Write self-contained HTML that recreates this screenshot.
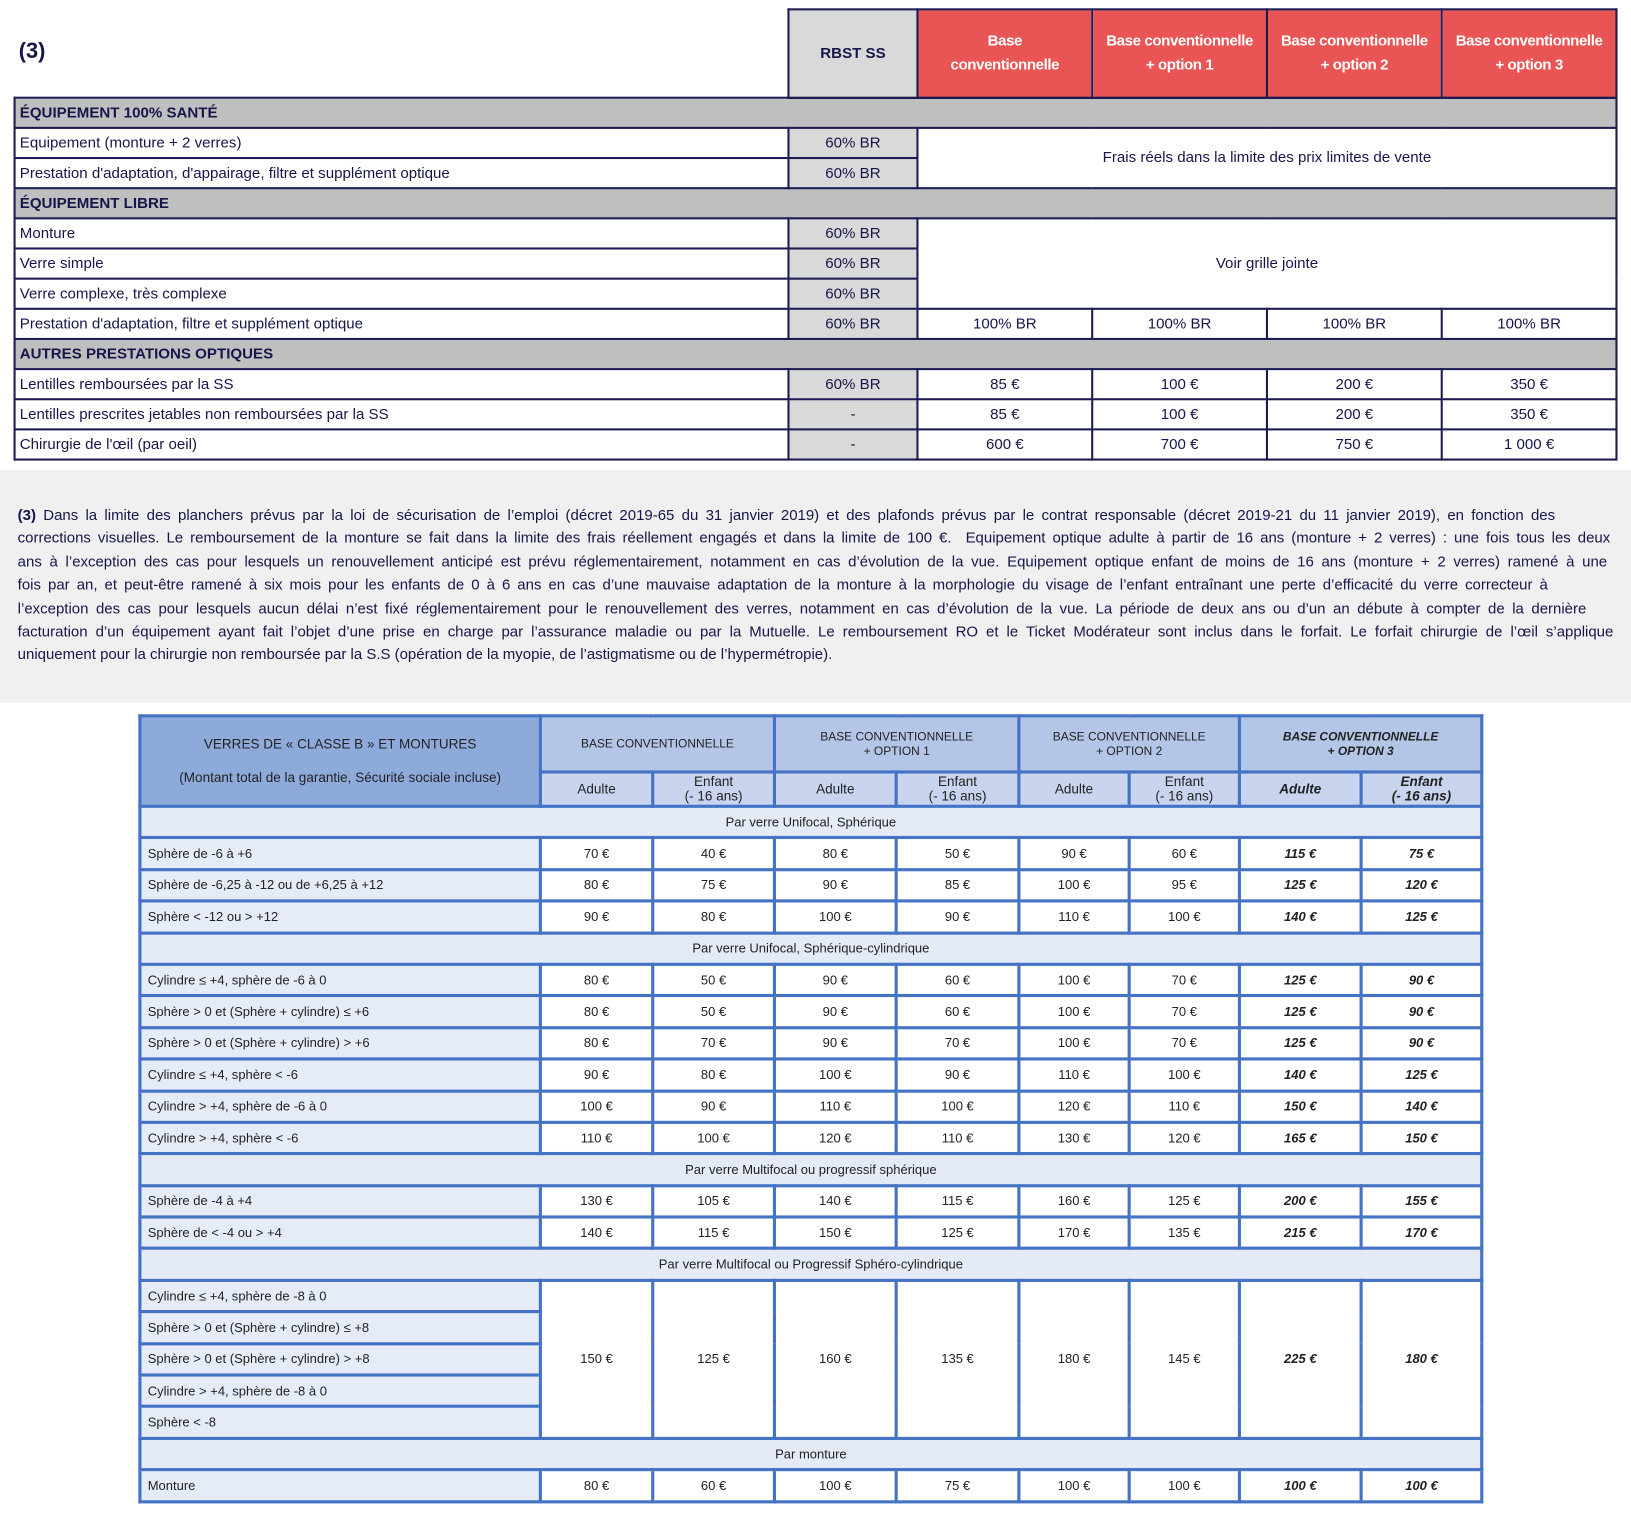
<!DOCTYPE html>
<html><head><meta charset="utf-8">
<style>
*{margin:0;padding:0;box-sizing:border-box}
body{width:1631px;height:1518px;background:#fff;overflow:hidden;position:relative}
#w{position:absolute;left:0;top:0;width:1568px;height:1460px;transform:scale(1.0402,1.0397);transform-origin:0 0;font-family:"Liberation Sans",sans-serif}
.t1{position:absolute;border-collapse:collapse;table-layout:fixed;color:#16164a;font-size:14.5px}
.t1 td{border:2px solid #1c1c52;height:29px;padding:0 4px;white-space:nowrap;overflow:hidden}
.t1 .c{text-align:center}
.t1 .g{background:#d9d9d9}
.t1 .s{background:#bfbfbf;font-weight:bold}
.t1 .r{background:#e95454;color:#fff;font-weight:bold;text-align:center;line-height:23px;font-size:14.5px;letter-spacing:-0.4px}
.note{position:absolute;left:0;top:452px;width:1568px;height:224px;background:#f0f0f0;color:#16164a;font-size:14.4px;line-height:22.4px;padding:33px 0 0 17px}
.note div{white-space:nowrap;text-align:justify;text-align-last:justify;overflow:visible}
.t2{position:absolute;left:133px;top:687px;border-collapse:collapse;table-layout:fixed;font-size:12.5px;color:#222}
.t2 td{border:3px solid #4472c4;text-align:center;height:30.4px;background:#fff;white-space:nowrap}
.t2 td.l{background:#e6ecf7;text-align:left;padding-left:6px}
.t2 td.sec{background:#e4eaf6}
.t2 td.b{font-weight:bold;font-style:italic}
.t2 .h0{background:#8eaadb;font-size:13px;line-height:32px}
.t2 .h1{background:#b4c6e7;font-size:11.5px;line-height:14px}
.t2 .h2{background:#c9d5ee;font-size:13px;line-height:14px}
</style></head><body><div id="w">
<div style="position:absolute;left:18px;top:38px;font-size:21px;font-weight:bold;color:#16164a">(3)</div>
<table class="t1" style="left:757px;top:8px;width:796px">
<colgroup><col style="width:124px"><col style="width:168px"><col style="width:168px"><col style="width:168px"><col style="width:168px"></colgroup>
<tr><td class="g c" style="height:86px;font-weight:bold">RBST SS</td><td class="r">Base<br>conventionnelle</td><td class="r">Base conventionnelle<br>+ option 1</td><td class="r">Base conventionnelle<br>+ option 2</td><td class="r">Base conventionnelle<br>+ option 3</td></tr>
</table>
<table class="t1" style="left:13px;top:93px;width:1540px">
<colgroup><col style="width:744px"><col style="width:124px"><col style="width:168px"><col style="width:168px"><col style="width:168px"><col style="width:168px"></colgroup>
<tr><td class="s" colspan="6">ÉQUIPEMENT 100% SANTÉ</td></tr>
<tr><td>Equipement (monture + 2 verres)</td><td class="g c">60% BR</td><td class="c" colspan="4" rowspan="2">Frais réels dans la limite des prix limites de vente</td></tr>
<tr><td>Prestation d'adaptation, d'appairage, filtre et supplément optique</td><td class="g c">60% BR</td></tr>
<tr><td class="s" colspan="6">ÉQUIPEMENT LIBRE</td></tr>
<tr><td>Monture</td><td class="g c">60% BR</td><td class="c" colspan="4" rowspan="3">Voir grille jointe</td></tr>
<tr><td>Verre simple</td><td class="g c">60% BR</td></tr>
<tr><td>Verre complexe, très complexe</td><td class="g c">60% BR</td></tr>
<tr><td>Prestation d'adaptation, filtre et supplément optique</td><td class="g c">60% BR</td><td class="c">100% BR</td><td class="c">100% BR</td><td class="c">100% BR</td><td class="c">100% BR</td></tr>
<tr><td class="s" colspan="6">AUTRES PRESTATIONS OPTIQUES</td></tr>
<tr><td>Lentilles remboursées par la SS</td><td class="g c">60% BR</td><td class="c">85 €</td><td class="c">100 €</td><td class="c">200 €</td><td class="c">350 €</td></tr>
<tr><td>Lentilles prescrites jetables non remboursées par la SS</td><td class="g c">-</td><td class="c">85 €</td><td class="c">100 €</td><td class="c">200 €</td><td class="c">350 €</td></tr>
<tr><td>Chirurgie de l'œil (par oeil)</td><td class="g c">-</td><td class="c">600 €</td><td class="c">700 €</td><td class="c">750 €</td><td class="c">1 000 €</td></tr>
</table>
<div class="note">
<div style="width:1478px"><b>(3)</b> Dans la limite des planchers prévus par la loi de sécurisation de l’emploi (décret 2019-65 du 31 janvier 2019) et des plafonds prévus par le contrat responsable (décret 2019-21 du 11 janvier 2019), en fonction des</div>
<div style="width:1531px">corrections visuelles. Le remboursement de la monture se fait dans la limite des frais réellement engagés et dans la limite de 100 €.&nbsp; Equipement optique adulte à partir de 16 ans (monture + 2 verres) : une fois tous les deux</div>
<div style="width:1528px">ans à l’exception des cas pour lesquels un renouvellement anticipé est prévu réglementairement, notamment en cas d’évolution de la vue. Equipement optique enfant de moins de 16 ans (monture + 2 verres) ramené à une</div>
<div style="width:1471px">fois par an, et peut-être ramené à six mois pour les enfants de 0 à 6 ans en cas d’une mauvaise adaptation de la monture à la morphologie du visage de l’enfant entraînant une perte d’efficacité du verre correcteur à</div>
<div style="width:1508px">l’exception des cas pour lesquels aucun délai n’est fixé réglementairement pour le renouvellement des verres, notamment en cas d’évolution de la vue. La période de deux ans ou d’un an débute à compter de la dernière</div>
<div style="width:1534px">facturation d’un équipement ayant fait l’objet d’une prise en charge par l’assurance maladie ou par la Mutuelle. Le remboursement RO et le Ticket Modérateur sont inclus dans le forfait. Le forfait chirurgie de l’œil s’applique</div>
<div style="text-align-last:left">uniquement pour la chirurgie non remboursée par la S.S (opération de la myopie, de l’astigmatisme ou de l’hypermétropie).</div>
</div>
<table class="t2" style="width:1290px">
<colgroup><col style="width:385px"><col style="width:108px"><col style="width:117px"><col style="width:117px"><col style="width:118px"><col style="width:106px"><col style="width:106px"><col style="width:117px"><col style="width:116px"></colgroup>
<tr><td class="h0" rowspan="2">VERRES DE « CLASSE B » ET MONTURES<br>(Montant total de la garantie, Sécurité sociale incluse)</td><td class="h1" colspan="2" style="height:54px">BASE CONVENTIONNELLE</td><td class="h1" colspan="2">BASE CONVENTIONNELLE<br>+ OPTION 1</td><td class="h1" colspan="2">BASE CONVENTIONNELLE<br>+ OPTION 2</td><td class="h1 b" colspan="2" style="font-weight:bold;font-style:italic">BASE CONVENTIONNELLE<br>+ OPTION 3</td></tr>
<tr><td class="h2" style="height:33px">Adulte</td><td class="h2">Enfant<br>(- 16 ans)</td><td class="h2">Adulte</td><td class="h2">Enfant<br>(- 16 ans)</td><td class="h2">Adulte</td><td class="h2">Enfant<br>(- 16 ans)</td><td class="h2 b">Adulte</td><td class="h2 b">Enfant<br>(- 16 ans)</td></tr>
<tr><td class="sec" colspan="9">Par verre Unifocal, Sphérique</td></tr>
<tr><td class="l">Sphère de -6 à +6</td><td>70 €</td><td>40 €</td><td>80 €</td><td>50 €</td><td>90 €</td><td>60 €</td><td class="b">115 €</td><td class="b">75 €</td></tr>
<tr><td class="l">Sphère de -6,25 à -12 ou de +6,25 à +12</td><td>80 €</td><td>75 €</td><td>90 €</td><td>85 €</td><td>100 €</td><td>95 €</td><td class="b">125 €</td><td class="b">120 €</td></tr>
<tr><td class="l">Sphère &lt; -12 ou &gt; +12</td><td>90 €</td><td>80 €</td><td>100 €</td><td>90 €</td><td>110 €</td><td>100 €</td><td class="b">140 €</td><td class="b">125 €</td></tr>
<tr><td class="sec" colspan="9">Par verre Unifocal, Sphérique-cylindrique</td></tr>
<tr><td class="l">Cylindre ≤ +4, sphère de -6 à 0</td><td>80 €</td><td>50 €</td><td>90 €</td><td>60 €</td><td>100 €</td><td>70 €</td><td class="b">125 €</td><td class="b">90 €</td></tr>
<tr><td class="l">Sphère &gt; 0 et (Sphère + cylindre) ≤ +6</td><td>80 €</td><td>50 €</td><td>90 €</td><td>60 €</td><td>100 €</td><td>70 €</td><td class="b">125 €</td><td class="b">90 €</td></tr>
<tr><td class="l">Sphère &gt; 0 et (Sphère + cylindre) &gt; +6</td><td>80 €</td><td>70 €</td><td>90 €</td><td>70 €</td><td>100 €</td><td>70 €</td><td class="b">125 €</td><td class="b">90 €</td></tr>
<tr><td class="l">Cylindre ≤ +4, sphère &lt; -6</td><td>90 €</td><td>80 €</td><td>100 €</td><td>90 €</td><td>110 €</td><td>100 €</td><td class="b">140 €</td><td class="b">125 €</td></tr>
<tr><td class="l">Cylindre &gt; +4, sphère de -6 à 0</td><td>100 €</td><td>90 €</td><td>110 €</td><td>100 €</td><td>120 €</td><td>110 €</td><td class="b">150 €</td><td class="b">140 €</td></tr>
<tr><td class="l">Cylindre &gt; +4, sphère &lt; -6</td><td>110 €</td><td>100 €</td><td>120 €</td><td>110 €</td><td>130 €</td><td>120 €</td><td class="b">165 €</td><td class="b">150 €</td></tr>
<tr><td class="sec" colspan="9">Par verre Multifocal ou progressif sphérique</td></tr>
<tr><td class="l">Sphère de -4 à +4</td><td>130 €</td><td>105 €</td><td>140 €</td><td>115 €</td><td>160 €</td><td>125 €</td><td class="b">200 €</td><td class="b">155 €</td></tr>
<tr><td class="l">Sphère de &lt; -4 ou &gt; +4</td><td>140 €</td><td>115 €</td><td>150 €</td><td>125 €</td><td>170 €</td><td>135 €</td><td class="b">215 €</td><td class="b">170 €</td></tr>
<tr><td class="sec" colspan="9">Par verre Multifocal ou Progressif Sphéro-cylindrique</td></tr>
<tr><td class="l">Cylindre ≤ +4, sphère de -8 à 0</td><td rowspan="5">150 €</td><td rowspan="5">125 €</td><td rowspan="5">160 €</td><td rowspan="5">135 €</td><td rowspan="5">180 €</td><td rowspan="5">145 €</td><td rowspan="5" class="b">225 €</td><td rowspan="5" class="b">180 €</td></tr>
<tr><td class="l">Sphère &gt; 0 et (Sphère + cylindre) ≤ +8</td></tr>
<tr><td class="l">Sphère &gt; 0 et (Sphère + cylindre) &gt; +8</td></tr>
<tr><td class="l">Cylindre &gt; +4, sphère de -8 à 0</td></tr>
<tr><td class="l">Sphère &lt; -8</td></tr>
<tr><td class="sec" colspan="9">Par monture</td></tr>
<tr><td class="l">Monture</td><td>80 €</td><td>60 €</td><td>100 €</td><td>75 €</td><td>100 €</td><td>100 €</td><td class="b">100 €</td><td class="b">100 €</td></tr>
</table>
</div></body></html>
